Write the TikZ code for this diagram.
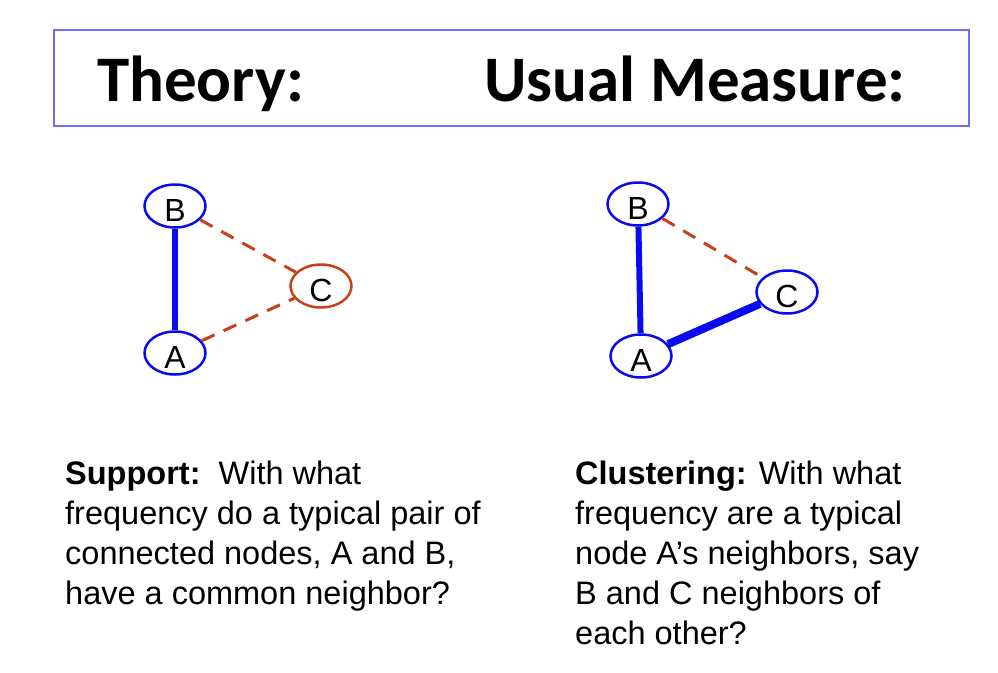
\documentclass[tikz,border=0pt]{standalone}
\usepackage{fontspec}
\setmainfont{Liberation Sans}
\newfontfamily\titlefont{Carlito}
\usetikzlibrary{shapes.geometric}
\definecolor{nodeblue}{HTML}{0A0AF0}
\definecolor{dashred}{HTML}{C8401A}
\definecolor{boxblue}{HTML}{6E6EF5}
\tikzset{
  vert/.style={ellipse, draw=nodeblue, line width=2.5pt, minimum width=61pt, minimum height=43pt, inner xsep=0pt, inner ysep=-10pt, text height=30pt, text depth=0pt, font=\fontsize{32}{32}\selectfont},
  vertred/.style={vert, draw=dashred},
  solidedge/.style={draw=nodeblue, line width=6pt},
  dashedge/.style={draw=dashred, line width=3pt, dash pattern=on 14pt off 10pt},
  bodytext/.style={anchor=north west, align=left, inner sep=0pt, font=\fontsize{32.5}{40}\selectfont},
  titletext/.style={anchor=base west, inner sep=0pt, font=\titlefont\bfseries\fontsize{65}{65}\selectfont}
}
\begin{document}
\begin{tikzpicture}[x=1pt, y=-1pt]
\useasboundingbox (0,0) rectangle (998,672);
\node[draw=boxblue, line width=1.5pt, minimum width=915pt, minimum height=96pt, inner sep=0pt, anchor=north west] (box) at (53,29) {};
\node[titletext] (t1) at (97,101) {Theory:};
\node[titletext] (t2) at (484,101) {Usual Measure:};
% left graph
\node[vert] (lB) at (175,206) {B};
\node[vert] (lA) at (175,353) {A};
\node[vertred] (lC) at (321,286) {C};
\draw[solidedge] (lB) -- (lA);
\draw[dashedge] (lB) -- (lC);
\draw[dashedge] (lA) -- (lC);
% right graph
\node[vert] (rB) at (638,204) {B};
\node[vert] (rA) at (641,356) {A};
\node[vert] (rC) at (787,292) {C};
\draw[solidedge] (rB) -- (rA);
\draw[draw=nodeblue, line width=8pt] (rA) -- (rC);
\draw[dashedge] (rB) -- (rC);
% texts
\node[bodytext] (lt) at (65,461) {\textbf{Support:}\ \ With what\\frequency do a typical pair of\\connected nodes, A and B,\\have a common neighbor?};
\node[bodytext] (rt) at (575,461) {\textbf{Clustering:} With what\\frequency are a typical\\node A’s neighbors, say\\B and C neighbors of\\each other?};
\end{tikzpicture}
\end{document}
